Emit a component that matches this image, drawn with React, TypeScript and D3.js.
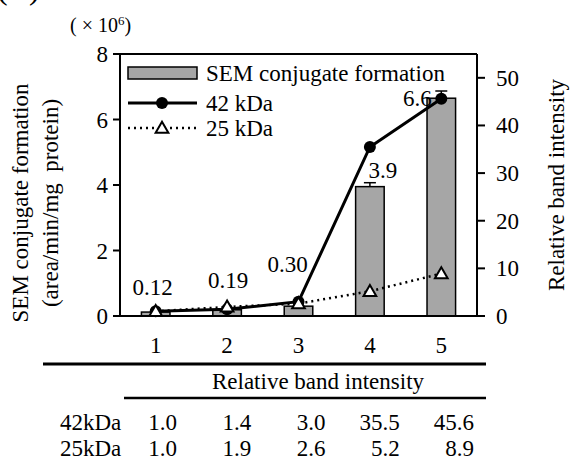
import React from "react";
import * as d3 from "d3";

const categories = ["1", "2", "3", "4", "5"];
const semValues = [0.12, 0.19, 0.3, 3.95, 6.65];
const semErrors = [0.0, 0.0, 0.0, 0.12, 0.22];
const semLabels = ["0.12", "0.19", "0.30", "3.9", "6.6"];
const kda42 = [1.0, 1.4, 3.0, 35.5, 45.6];
const kda25 = [1.0, 1.9, 2.6, 5.2, 8.9];
const leftTicks = [0, 2, 4, 6, 8];
const rightTicks = [0, 10, 20, 30, 40, 50];
const seriesNames = ["SEM conjugate formation", "42 kDa", "25 kDa"];
const rowLabels = ["42kDa", "25kDa"];

const W = 570;
const H = 465;
const FS = 23;

function T(props: any) {
  const { children, style, ...rest } = props;
  return (
    <text fontFamily="Liberation Serif" style={{ fontFamily: `"Liberation Serif"`, ...(style || {}) }} {...rest}>
      {children}
    </text>
  );
}

export default function App() {
  const left = 120, right = 477, top = 54, bottom = 316;
  const x = d3.scaleBand<string>().domain(categories).range([left, right]).paddingInner(0.6).paddingOuter(0.3);
  const xc = (c: string) => (x(c) as number) + x.bandwidth() / 2;
  const yL = d3.scaleLinear().domain([0, 8]).range([bottom, top]);
  const yR = d3.scaleLinear().domain([0, 55]).range([bottom, top]);
  const xTable = d3.scalePoint<string>().domain(categories).range([177, 474]);

  const line42 = d3.line<number>().x((_, i) => xc(categories[i])).y((d) => yR(d));
  const line25 = d3.line<number>().x((_, i) => xc(categories[i])).y((d) => yR(d));
  const tri = d3.symbol().type(d3.symbolTriangle).size(70)();
  const labelOffsets = [
    { dx: -3, dy: -17 },
    { dx: 1, dy: -22 },
    { dx: -11, dy: -34 },
    { dx: 13, dy: -5 },
    { dx: -24, dy: 15 },
  ];

  return (
    <svg width={W} height={H} style={{ position: "absolute", left: 0, top: 0, background: "#fff" }}>
      <rect x={0} y={0} width={W} height={H} fill="#fff" />
      <T x={-3} y={-1} fontSize={32}>(B)</T>
      <T x={70} y={32} fontSize={20}>
        ( × 10<tspan dy={-7} fontSize={13}>6</tspan><tspan dy={7}>)</tspan>
      </T>

      {semValues.map((v, i) => (
        <g key={"b" + i}>
          <rect x={x(categories[i])} y={yL(v)} width={x.bandwidth()} height={yL(0) - yL(v)} fill="#a6a6a6" stroke="#000" strokeWidth={1.5} />
          {semErrors[i] > 0 && (
            <g stroke="#000" strokeWidth={1.5}>
              <line x1={xc(categories[i])} x2={xc(categories[i])} y1={yL(v)} y2={yL(v + semErrors[i])} />
              <line x1={xc(categories[i]) - 6} x2={xc(categories[i]) + 6} y1={yL(v + semErrors[i])} y2={yL(v + semErrors[i])} />
            </g>
          )}
        </g>
      ))}

      <path d={line25(kda25) as string} fill="none" stroke="#000" strokeWidth={2.5} strokeDasharray="2,4" />
      <path d={line42(kda42) as string} fill="none" stroke="#000" strokeWidth={3} />
      {kda42.map((v, i) => (
        <circle key={"c" + i} cx={xc(categories[i])} cy={yR(v)} r={6} fill="#000" />
      ))}
      {kda25.map((v, i) => (
        <path key={"t" + i} d={tri as string} transform={`translate(${xc(categories[i])},${yR(v) + 1})`} fill="#fff" stroke="#000" strokeWidth={2} />
      ))}

      {semLabels.map((s, i) => (
        <T key={"l" + i} x={xc(categories[i]) + labelOffsets[i].dx} y={yL(semValues[i] + semErrors[i]) + labelOffsets[i].dy} fontSize={FS} textAnchor="middle">{s}</T>
      ))}

      <g stroke="#000" strokeWidth={2} fill="none">
        <line x1={left} x2={right} y1={top} y2={top} />
        <line x1={left} x2={left} y1={top} y2={bottom} />
        <line x1={right} x2={right} y1={top} y2={bottom} />
        <line x1={left - 7} x2={right + 8} y1={bottom} y2={bottom} />
      </g>

      {leftTicks.map((t) => (
        <g key={"lt" + t}>
          <line x1={left - 7} x2={left} y1={yL(t)} y2={yL(t)} stroke="#000" strokeWidth={2} />
          <T x={108} y={yL(t) + 8} fontSize={FS} textAnchor="end">{t}</T>
        </g>
      ))}
      {rightTicks.map((t) => (
        <g key={"rt" + t}>
          <line x1={right} x2={right + 8} y1={yR(t)} y2={yR(t)} stroke="#000" strokeWidth={2} />
          <T x={496} y={yR(t) + 8} fontSize={FS} textAnchor="start">{t}</T>
        </g>
      ))}
      {categories.map((c) => (
        <T key={"x" + c} x={xc(c)} y={353} fontSize={FS} textAnchor="middle">{c}</T>
      ))}

      <T transform="translate(28,203) rotate(-90)" fontSize={FS} textAnchor="middle">{seriesNames[0]}</T>
      <T transform="translate(58,203) rotate(-90)" fontSize={FS} textAnchor="middle" style={{ whiteSpace: "pre" }}>(area/min/mg  protein)</T>
      <T transform="translate(564,185) rotate(-90)" fontSize={FS} textAnchor="middle">Relative band intensity</T>

      <rect x={128} y={67} width={69} height={12} fill="#a6a6a6" stroke="#000" strokeWidth={1.5} />
      <T x={206} y={81} fontSize={FS}>{seriesNames[0]}</T>
      <line x1={128} x2={197} y1={103} y2={103} stroke="#000" strokeWidth={3} />
      <circle cx={162} cy={103} r={6} fill="#000" />
      <T x={206} y={111} fontSize={FS}>{seriesNames[1]}</T>
      <line x1={128} x2={197} y1={128} y2={128} stroke="#000" strokeWidth={2.5} strokeDasharray="2,4" />
      <path d={tri as string} transform="translate(162,129)" fill="#fff" stroke="#000" strokeWidth={2} />
      <T x={206} y={136} fontSize={FS}>{seriesNames[2]}</T>

      <line x1={43} x2={486} y1={364} y2={364} stroke="#000" strokeWidth={3} />
      <T x={318} y={389} fontSize={FS} textAnchor="middle">Relative band intensity</T>
      <line x1={124} x2={486} y1={398} y2={398} stroke="#000" strokeWidth={2.5} />
      {[kda42, kda25].map((row, r) => (
        <g key={"row" + r}>
          <T x={60} y={430 + r * 26} fontSize={FS}>{rowLabels[r]}</T>
          {row.map((v, i) => (
            <T key={i} x={xTable(categories[i])} y={430 + r * 26} fontSize={FS} textAnchor="end">{v.toFixed(1)}</T>
          ))}
        </g>
      ))}
    </svg>
  );
}
